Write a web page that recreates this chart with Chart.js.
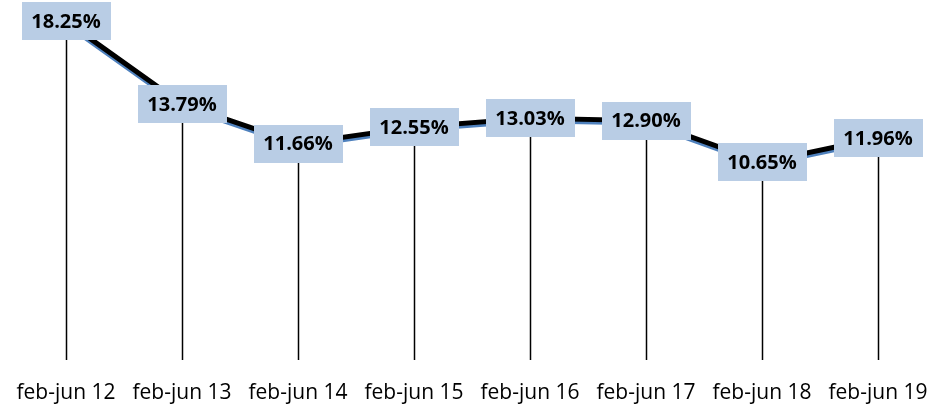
<!DOCTYPE html>
<html>
<head>
<meta charset="utf-8">
<script src="https://cdn.jsdelivr.net/npm/chart.js@4"></script>
<style>
  html, body { margin: 0; padding: 0; background: #fff; }
  #wrap { width: 933px; height: 404px; }
</style>
</head>
<body>
<div id="wrap"><canvas id="myChart"></canvas></div>
<script>
const periodos = ['feb-jun 12', 'feb-jun 13', 'feb-jun 14', 'feb-jun 15', 'feb-jun 16', 'feb-jun 17', 'feb-jun 18', 'feb-jun 19'];
const tasas = [18.25, 13.79, 11.66, 12.55, 13.03, 12.90, 10.65, 11.96];

// lineas verticales desde cada punto hasta abajo
const dropLines = {
    id: 'dropLines',
    beforeDatasetsDraw(chart) {
        const ctx = chart.ctx;
        const meta = chart.getDatasetMeta(0);
        ctx.save();
        ctx.strokeStyle = '#000';
        ctx.lineWidth = 1.5;
        meta.data.forEach(p => {
            const x = Math.round(p.x) + 0.5;
            ctx.beginPath();
            ctx.moveTo(x, p.y);
            ctx.lineTo(x, chart.chartArea.bottom);
            ctx.stroke();
        });
        ctx.restore();
    }
};

// sombra azul de la linea
const lineShadow = {
    id: 'lineShadow',
    beforeDatasetDraw(chart) {
        const ctx = chart.ctx;
        ctx.save();
        ctx.shadowColor = '#4f81bd';
        ctx.shadowOffsetX = 0;
        ctx.shadowOffsetY = 2.5;
        ctx.shadowBlur = 0;
    },
    afterDatasetDraw(chart) {
        chart.ctx.restore();
    }
};

// etiquetas con caja
const boxLabels = {
    id: 'boxLabels',
    afterDatasetsDraw(chart) {
        const ctx = chart.ctx;
        const meta = chart.getDatasetMeta(0);
        ctx.save();
        ctx.font = 'bold 20px "Open Sans"';
        ctx.textAlign = 'center';
        ctx.textBaseline = 'middle';
        meta.data.forEach((p, i) => {
            const txt = tasas[i].toFixed(2) + '%';
            const w = 89, h = 38;
            ctx.fillStyle = '#b9cde5';
            ctx.fillRect(Math.round(p.x - w / 2), Math.round(p.y - h / 2), w, h);
            ctx.fillStyle = '#000';
            ctx.fillText(txt, p.x, p.y + 1);
        });
        ctx.restore();
    }
};

const ctx = document.getElementById('myChart');

new Chart(ctx, {
    type: 'line',
    data: {
        labels: periodos,
        datasets: [
            {
                label: 'Tasa',
                data: tasas,
                borderColor: '#000',
                borderWidth: 5,
                pointRadius: 0,
                tension: 0,
                fill: false
            }
        ]
    },
    options: {
        responsive: true,
        maintainAspectRatio: false,
        animation: false,
        layout: {
            padding: { left: 66, right: 55, top: 0, bottom: 0 }
        },
        plugins: {
            legend: { display: false },
            tooltip: { enabled: false }
        },
        scales: {
            x: {
                offset: false,
                grid: { display: false, drawTicks: false },
                border: { display: false },
                ticks: {
                    color: '#000',
                    font: { family: 'Open Sans', size: 21, lineHeight: 1.2 },
                    padding: 20,
                    maxRotation: 0,
                    autoSkip: false
                },
                afterFit(scale) {
                    scale.height = 44;
                    scale.paddingLeft = 0;
                    scale.paddingRight = 0;
                }
            },
            y: {
                display: false,
                min: 0,
                max: 19.4
            }
        }
    },
    plugins: [dropLines, lineShadow, boxLabels]
});
</script>
</body>
</html>
